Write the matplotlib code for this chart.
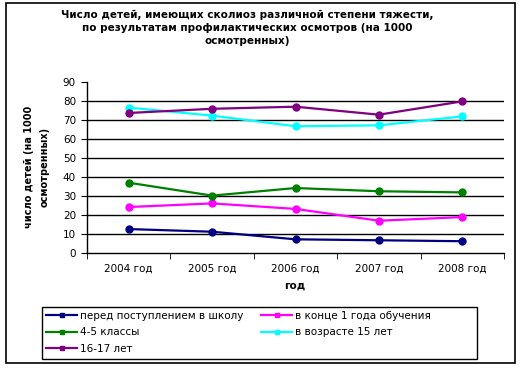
import matplotlib
matplotlib.use("Agg")
import matplotlib.pyplot as plt
from matplotlib.lines import Line2D
from matplotlib.patches import Rectangle

plt.rcParams['font.family'] = ['DejaVu Sans']

years = ['2004 год', '2005 год', '2006 год', '2007 год', '2008 год']
before_school = [12.6, 11.2, 7.2, 6.7, 6.2]
end_first_year = [24.2, 26.1, 23.2, 17.0, 18.9]
grades_4_5 = [37.0, 30.2, 34.2, 32.5, 31.9]
age_15 = [76.5, 72.3, 66.7, 67.2, 71.9]
age_16_17 = [73.7, 75.9, 77.0, 72.8, 79.8]

series = [
    ('перед поступлением в школу', before_school, '#000080'),
    ('в конце 1 года обучения', end_first_year, '#FF00FF'),
    ('4-5 классы', grades_4_5, '#008000'),
    ('в возрасте 15 лет', age_15, '#00FFFF'),
    ('16-17 лет', age_16_17, '#800080'),
]

W, H = 523, 369
fig = plt.figure(figsize=(W / 100, H / 100), dpi=100)
# outer chart frame
fig.patches.append(Rectangle((6 / W, 1 - 363 / H), 509 / W, 360 / H,
                             transform=fig.transFigure, fill=False,
                             edgecolor='black', linewidth=1.2))

ax = fig.add_axes([87 / W, 1 - 253 / H, (504 - 87) / W, (253 - 82) / H])
x = list(range(len(years)))
for name, vals, col in series:
    ax.plot(x, vals, color=col, lw=1.6, marker='o', markersize=5, zorder=3)

ax.set_xlim(-0.5, len(years) - 0.5)
ax.set_ylim(0, 90)
ax.set_yticks(range(0, 91, 10))
for v in range(10, 90, 10):
    ax.axhline(v, color='black', lw=1, zorder=1)
ax.set_xticks(x)
ax.set_xticklabels(years, fontsize=7.5)
ax.set_xticks([i - 0.5 for i in range(len(years) + 1)], minor=True)
ax.tick_params(axis='x', which='major', length=0, pad=8)
ax.tick_params(axis='x', which='minor', length=4, direction='out')
ax.tick_params(axis='y', length=4, labelsize=7.5, pad=4)
for s in ['top', 'right']:
    ax.spines[s].set_visible(False)
for s in ['left', 'bottom']:
    ax.spines[s].set_color('black')
    ax.spines[s].set_linewidth(1)

fig.text(247 / W, 1 - 28 / H,
         'Число детей, имеющих сколиоз различной степени тяжести,\n'
         'по результатам профилактических осмотров (на 1000\n'
         'осмотренных)',
         ha='center', va='center', fontsize=7.5, fontweight='bold', linespacing=1.4)
fig.text(37 / W, 1 - 167 / H, 'число детей (на 1000\nосмотренных)',
         rotation=90, ha='center', va='center', fontsize=7, fontweight='bold',
         linespacing=1.7)
fig.text(295 / W, 1 - 286 / H, 'год', ha='center', va='center',
         fontsize=7.5, fontweight='bold')

handles = [Line2D([], [], color=col, lw=1.6, marker='s', markersize=3)
           for name, vals, col in series]
names = [name for name, vals, col in series]
common = dict(loc='upper left', fontsize=7.5, handlelength=3.0, handletextpad=0.25,
              labelspacing=0.62, borderpad=0, borderaxespad=0, frameon=False)
leg1 = fig.legend([handles[0], handles[2], handles[4]],
                  [names[0], names[2], names[4]],
                  bbox_to_anchor=(46 / W, 1 - 311 / H), **common)
leg2 = fig.legend([handles[1], handles[3]], [names[1], names[3]],
                  bbox_to_anchor=(261 / W, 1 - 311 / H), **common)
# legend frame
fig.patches.append(Rectangle((42 / W, 1 - 359 / H), (477 - 42) / W, 52 / H,
                             transform=fig.transFigure, fill=False,
                             edgecolor='black', linewidth=1))

fig.savefig('out.png', dpi=100)
